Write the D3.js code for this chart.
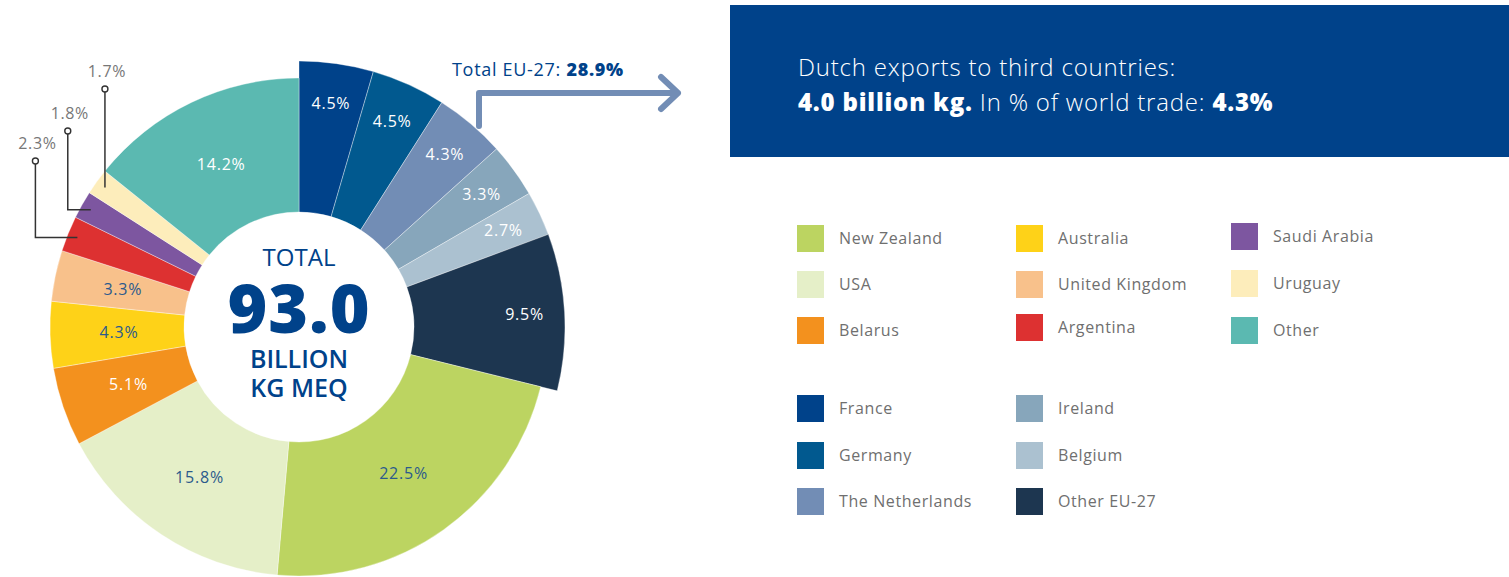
<!DOCTYPE html>
<html>
<head>
<meta charset="utf-8">
<script src="https://cdn.jsdelivr.net/npm/d3@7/dist/d3.min.js"></script>
<style>
  html, body { margin: 0; padding: 0; background: #ffffff; }
  svg { display: block; }
  text { font-family: "Open Sans", "Noto Sans", sans-serif; }
</style>
</head>
<body>
<svg id="chart" width="1509" height="577"></svg>
<script>
// Share of world meat trade by destination (% of 93.0 billion kg MEQ)
const sliceNames = ["France", "Germany", "The Netherlands", "Ireland", "Belgium", "Other EU-27",
  "New Zealand", "USA", "Belarus", "Australia", "United Kingdom", "Argentina",
  "Saudi Arabia", "Uruguay", "Other"];
const sliceValues = [4.5, 4.5, 4.3, 3.3, 2.7, 9.5, 22.5, 15.8, 5.1, 4.3, 3.3, 2.3, 1.8, 1.7, 14.2];
const euMembers = ["France", "Germany", "The Netherlands", "Ireland", "Belgium", "Other EU-27"];
const smallSlices = ["Argentina", "Saudi Arabia", "Uruguay"];
const euTotal = 28.9;
const worldTotal = "93.0";
const dutchExports = "4.0 billion kg.";
const dutchShare = "4.3%";

const legendRowsA = [["New Zealand", "Australia", "Saudi Arabia"], ["USA", "United Kingdom", "Uruguay"], ["Belarus", "Argentina", "Other"]];
const legendRowsB = [["France", "Ireland"], ["Germany", "Belgium"], ["The Netherlands", "Other EU-27"]];

const palette = {
  "France": "#00428a", "Germany": "#01598f", "The Netherlands": "#728db5", "Ireland": "#87a6bb",
  "Belgium": "#abc1d0", "Other EU-27": "#1d3650", "New Zealand": "#bcd461", "USA": "#e5efc8",
  "Belarus": "#f3911e", "Australia": "#fed218", "United Kingdom": "#f8c18b", "Argentina": "#dd3131",
  "Saudi Arabia": "#7d56a0", "Uruguay": "#fdedbb", "Other": "#5bb9b1"
};
const darkLabels = ["New Zealand", "USA", "Australia", "United Kingdom"];
const navy = "#00428a";

const svg = d3.select("#chart");
const cx = 299, cy = 327;
const innerR = 115, outerR = 249, euOuterR = 266;

const data = sliceNames.map((n, i) => ({ name: n, value: sliceValues[i], eu: euMembers.includes(n) }));
const pie = d3.pie().sort(null).value(d => d.value).startAngle(0).endAngle(2 * Math.PI);
const arcs = pie(data);
const arc = d3.arc().innerRadius(innerR).outerRadius(d => d.data.eu ? euOuterR : outerR);

const g = svg.append("g").attr("transform", `translate(${cx},${cy})`);
g.selectAll("path.slice").data(arcs).join("path")
  .attr("class", "slice")
  .attr("d", arc)
  .attr("fill", d => palette[d.data.name])
  .attr("stroke", "#ffffff").attr("stroke-width", 0.6).attr("stroke-opacity", 0.6);

const fmt = d3.format(".1f");
const labelArcPlain = d3.arc().innerRadius(180).outerRadius(180);
const labelArcEU = d3.arc().innerRadius(226).outerRadius(226);

g.selectAll("text.pct").data(arcs.filter(d => !smallSlices.includes(d.data.name))).join("text")
  .attr("class", "pct")
  .attr("transform", d => `translate(${(d.data.eu ? labelArcEU : labelArcPlain).centroid(d)})`)
  .attr("text-anchor", "middle").attr("dy", "0.35em")
  .attr("font-size", 16).attr("letter-spacing", 0.8)
  .attr("fill", d => darkLabels.includes(d.data.name) ? "#2b5a8c" : "#ffffff")
  .text(d => fmt(d.data.value) + "%");

// Callouts for the thin slices
const calloutRun = { "Argentina": -42, "Saudi Arabia": -23, "Uruguay": 0 };
const calloutTop = { "Argentina": 161, "Saudi Arabia": 131, "Uruguay": 89 };
const anchorArc = d3.arc().innerRadius(outerR - 10).outerRadius(outerR - 10);
arcs.filter(d => smallSlices.includes(d.data.name)).forEach(d => {
  const [ax, ay] = anchorArc.centroid(d).map((v, k) => v + (k ? cy : cx));
  const px = ax + calloutRun[d.data.name];
  const topY = calloutTop[d.data.name];
  svg.append("path")
    .attr("d", `M${ax},${ay} H${px} V${topY + 3}`)
    .attr("fill", "none").attr("stroke", "#333333").attr("stroke-width", 1.5);
  svg.append("circle").attr("cx", px).attr("cy", topY).attr("r", 3)
    .attr("fill", "#ffffff").attr("stroke", "#333333").attr("stroke-width", 1.4);
  svg.append("text").attr("x", px + 2).attr("y", topY - 12)
    .attr("text-anchor", "middle").attr("font-size", 16).attr("letter-spacing", 0.6)
    .attr("fill", "#777777").text(fmt(d.data.value) + "%");
});

// Centre hole text
const centre = svg.append("g").attr("fill", navy).attr("text-anchor", "middle");
centre.append("text").attr("x", cx).attr("y", 266).attr("font-size", 24).text("TOTAL");
centre.append("text").attr("x", cx).attr("y", 333).attr("font-size", 68)
  .attr("font-family", "Lato, 'Open Sans', sans-serif").attr("font-weight", 900)
  .attr("letter-spacing", 1).text(worldTotal);
centre.append("text").attr("x", cx).attr("y", 368).attr("font-size", 25).attr("font-weight", 600).text("BILLION");
centre.append("text").attr("x", cx).attr("y", 397).attr("font-size", 25).attr("font-weight", 600).text("KG MEQ");

// EU-27 total and arrow
const euText = svg.append("text").attr("x", 452).attr("y", 76).attr("font-size", 18)
  .attr("letter-spacing", 0.7).attr("fill", navy);
euText.append("tspan").text("Total EU-27: ");
euText.append("tspan").attr("font-weight", 800).text(fmt(euTotal) + "%");
svg.append("path")
  .attr("d", "M479,126 V93 H678 M661,77 L678,93 L661,109")
  .attr("fill", "none").attr("stroke", palette["The Netherlands"]).attr("stroke-width", 6)
  .attr("stroke-linecap", "round").attr("stroke-linejoin", "round");

// Info panel
svg.append("rect").attr("x", 730).attr("y", 5).attr("width", 779).attr("height", 152).attr("fill", navy);
svg.append("text").attr("x", 798).attr("y", 76).attr("font-size", 24).attr("font-weight", 300)
  .attr("letter-spacing", 0.8).attr("fill", "#ffffff").text("Dutch exports to third countries:");
const line2 = svg.append("text").attr("x", 798).attr("y", 111).attr("font-size", 24)
  .attr("letter-spacing", 0.8).attr("fill", "#ffffff");
line2.append("tspan").attr("font-weight", 800).text(dutchExports);
line2.append("tspan").attr("font-weight", 300).text(" In % of world trade: ");
line2.append("tspan").attr("font-weight", 800).text(dutchShare);

// Legends
const colX = [797, 1016, 1231];
function drawLegend(rows, rowY, colDY) {
  rows.forEach((row, r) => row.forEach((name, c) => {
    const y = rowY[r] + (colDY[r] ? colDY[r][c] : 0);
    svg.append("rect").attr("x", colX[c]).attr("y", y - 13).attr("width", 27).attr("height", 27)
      .attr("fill", palette[name]);
    svg.append("text").attr("x", colX[c] + 42).attr("y", y).attr("dy", "0.35em")
      .attr("font-size", 16).attr("letter-spacing", 0.6).attr("fill", "#6f6f6f").text(name);
  }));
}
drawLegend(legendRowsA, [238, 284, 330], [[0, 0, -2], [0, 0, -1], [0, -3, 0]]);
drawLegend(legendRowsB, [408, 455, 501], []);
</script>
</body>
</html>
